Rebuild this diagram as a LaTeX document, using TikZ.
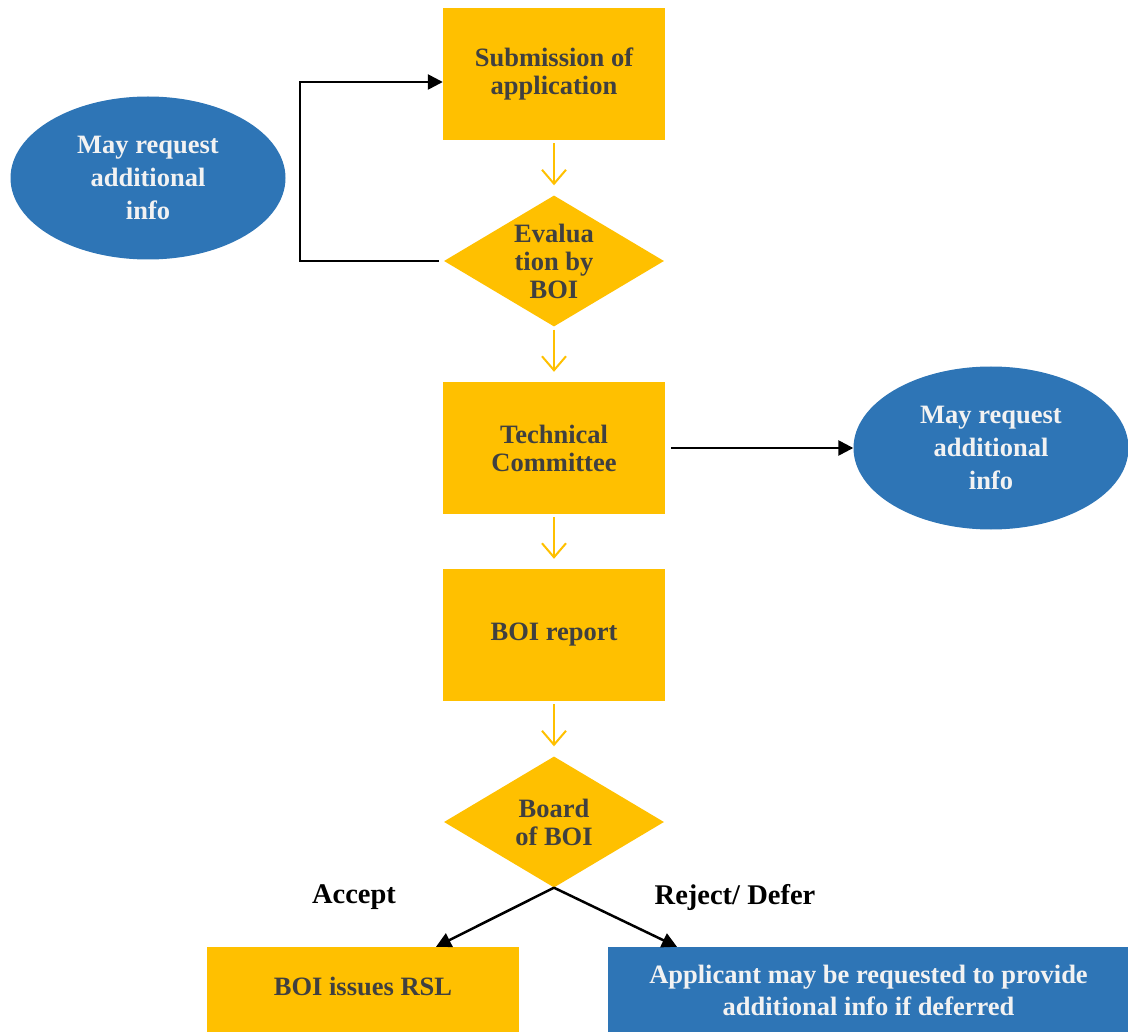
\documentclass[tikz,border=0pt]{standalone}
\usepackage{fontspec}
\setmainfont{Liberation Serif}
\usetikzlibrary{arrows.meta,positioning,shapes.geometric}
\definecolor{boxyellow}{HTML}{FFC000}
\definecolor{boxblue}{HTML}{2E75B6}
\definecolor{inkgray}{HTML}{404040}
\definecolor{inkwhite}{HTML}{F2F2F2}

\begin{document}
\begin{tikzpicture}[x=1pt,y=-1pt,node distance=187pt,on grid]
  \tikzstyle{every node}=[font=\bfseries\fontsize{26.5}{28}\selectfont]
  \tikzstyle{stage}=[rectangle, fill=boxyellow, text=inkgray, minimum width=222pt, minimum height=132pt, align=center]
  \tikzstyle{decide}=[diamond, fill=boxyellow, minimum width=220pt, minimum height=131pt, inner sep=0pt]
  \tikzstyle{asks}=[ellipse, fill=boxblue, text=inkwhite, minimum width=275pt, minimum height=163pt, align=center, font=\bfseries\fontsize{26.5}{33}\selectfont]
  \tikzstyle{choice}=[font=\bfseries\fontsize{28.5}{30}\selectfont]
  \tikzstyle{flow}=[draw=boxyellow, line width=2pt, -{Straight Barb[length=14pt,width=24pt]}, shorten <=3pt, shorten >=10pt]
  \tikzstyle{back}=[draw=black, line width=2.5pt, -{Triangle[length=15pt,width=15pt]}]

  \useasboundingbox (0,0) rectangle (1128,1032);

  \node[stage] (sub_app) at (554,74) {Submission of\\application};
  \node[decide, label={[align=center, text=inkgray]center:Evalua\\tion by\\BOI}] (eval_boi) [below=of sub_app] {};
  \node[stage] (tech_com) [below=of eval_boi] {Technical\\Committee};
  \node[stage] (boi_rep) [below=of tech_com] {BOI report};
  \node[decide, label={[align=center, text=inkgray]center:Board\\of BOI}] (board_boi) [below=of boi_rep] {};

  \node[asks] (info_left) [below left=104pt and 406pt of sub_app] {May request\\additional\\info};
  \node[asks] (info_right) [right=437pt of tech_com] {May request\\additional\\info};

  \node[choice] (acc) [below left=75pt and 200pt of board_boi] {Accept};
  \node[choice] (rej) [below right=75pt and 181pt of board_boi] {Reject/ Defer};

  \node[stage, minimum width=312pt, minimum height=86pt] (rsl) [below left=168pt and 191pt of board_boi] {\raisebox{7pt}{BOI issues RSL}};
  \node[fill=boxblue, text=inkwhite, minimum width=521pt, minimum height=86pt, align=center,
        font=\bfseries\fontsize{26.5}{32}\selectfont] (appl) [below right=168pt and 314.5pt of board_boi]
        {Applicant may be requested to provide\\additional info if deferred};

  \path[flow]
    (sub_app) edge (eval_boi)
    (eval_boi) edge (tech_com)
    (tech_com) edge (boi_rep)
    (boi_rep) edge (board_boi);

  \draw[back] ([xshift=-5pt]eval_boi.west) -- ++(-139,0) |- ([yshift=-8pt]sub_app.west);
  \draw[back, shorten <=6pt] (tech_com.east) -- (tech_com.east -| info_right.west);
  \draw[back] (board_boi.south) -- ([xshift=73pt]rsl.north);
  \draw[back] (board_boi.south) -- ([xshift=-191.5pt]appl.north);
\end{tikzpicture}
\end{document}
